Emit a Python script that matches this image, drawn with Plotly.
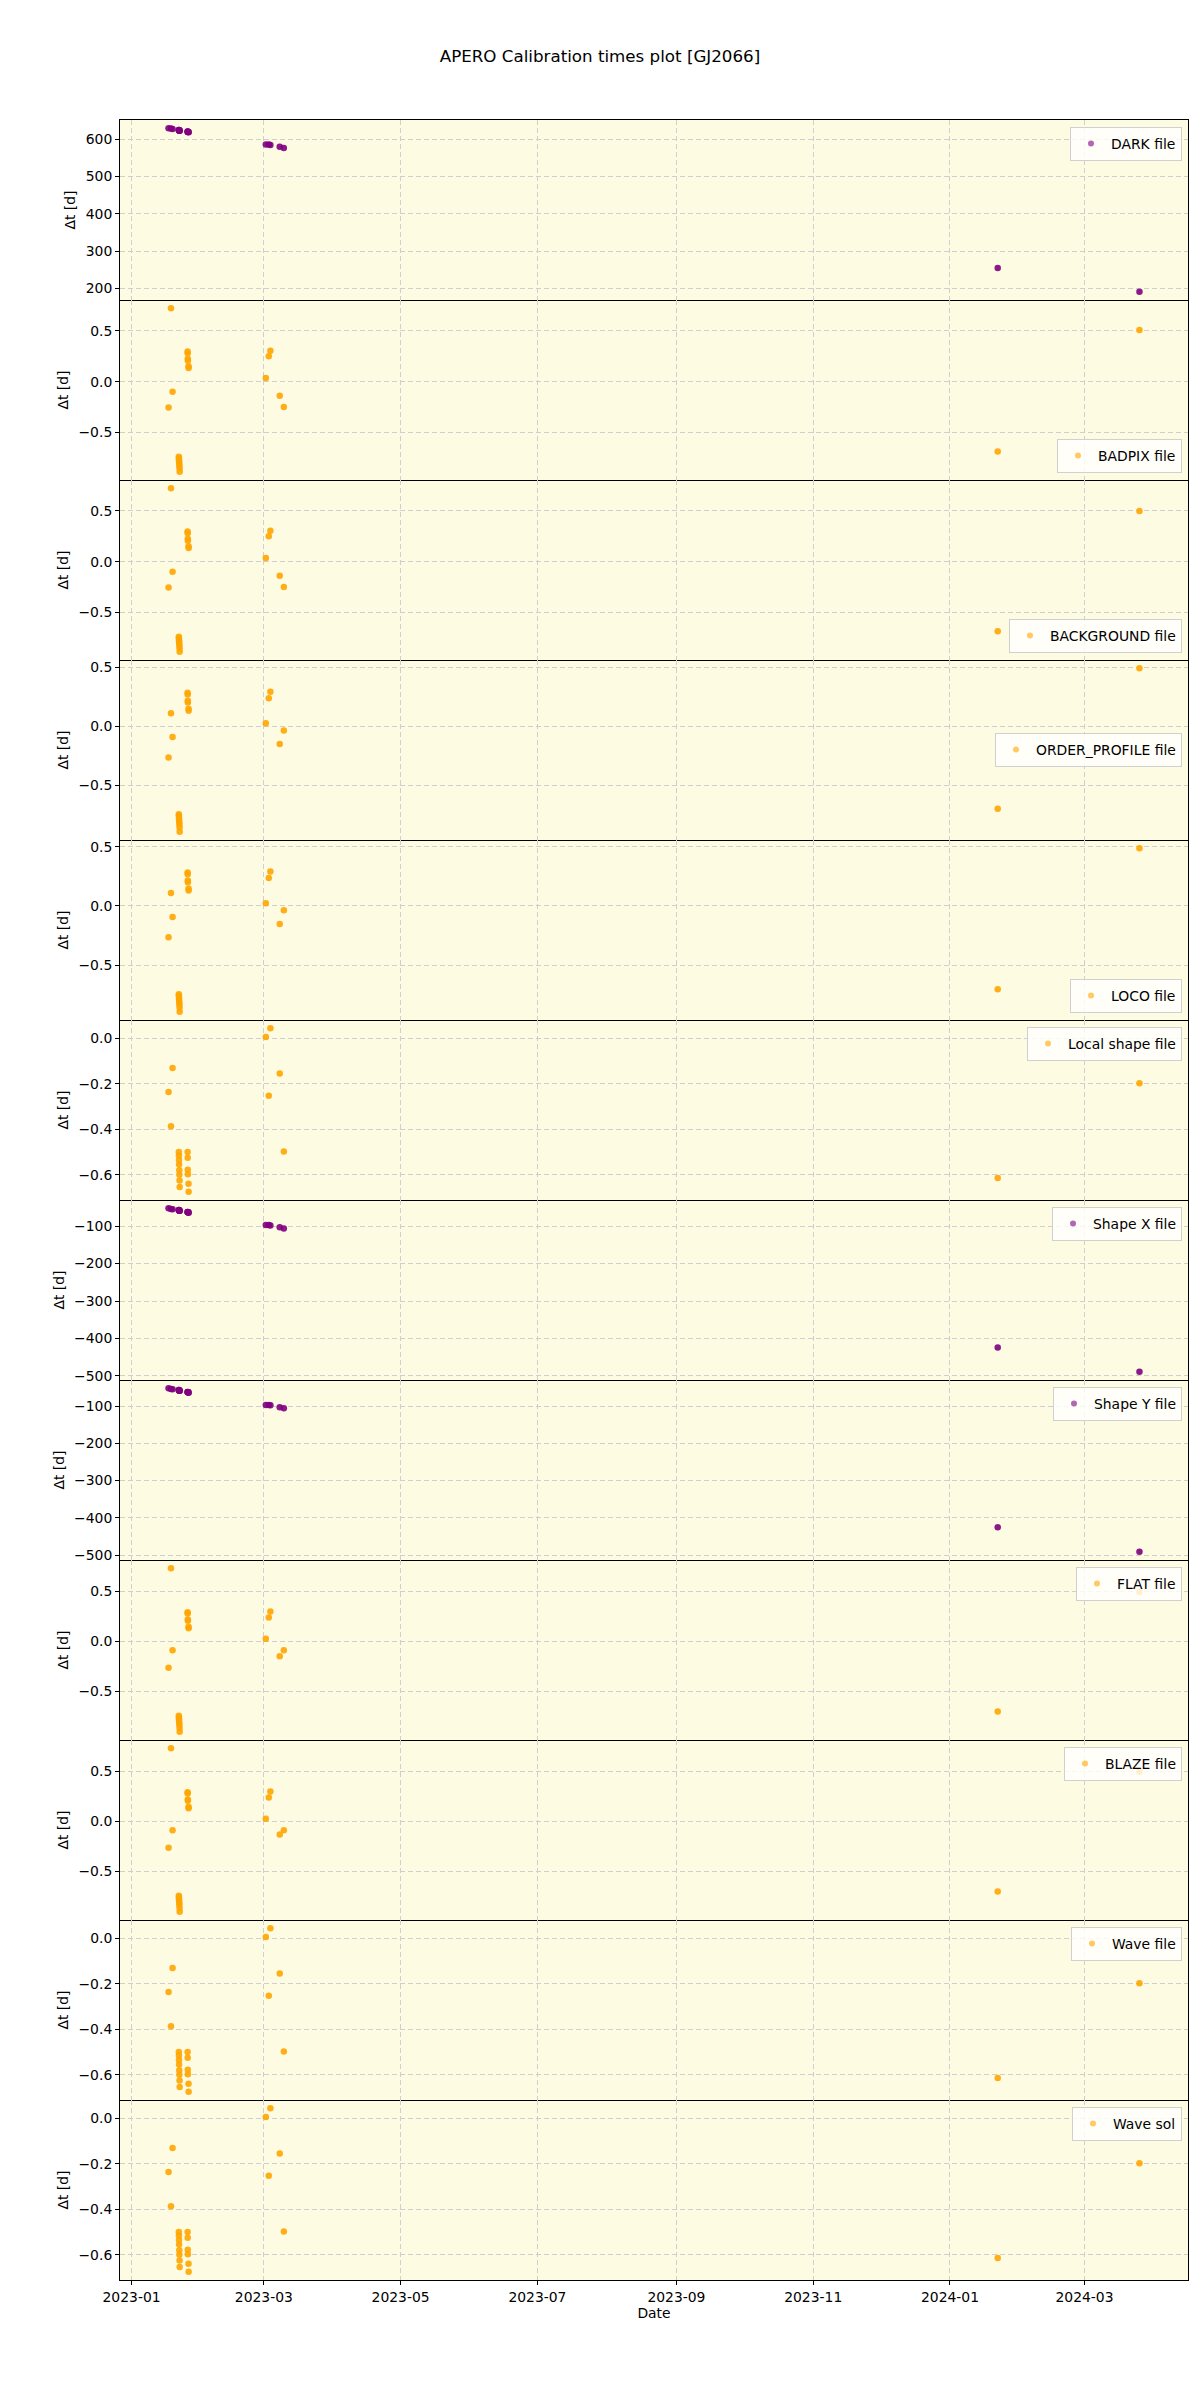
import pandas as pd
import plotly.graph_objects as go
from plotly.subplots import make_subplots

# ---------------- data ----------------
obs_dates = [
    "2023-01-17 12:00", "2023-01-18 14:00", "2023-01-19 07:00",
    "2023-01-22 02:00", "2023-01-22 03:00", "2023-01-22 04:00", "2023-01-22 05:00",
    "2023-01-22 07:00", "2023-01-22 08:00", "2023-01-22 10:00", "2023-01-22 11:00",
    "2023-01-26 00:00", "2023-01-26 01:00", "2023-01-26 02:00", "2023-01-26 03:00",
    "2023-01-26 10:00", "2023-01-26 11:00",
    "2023-03-01 21:00", "2023-03-03 05:00", "2023-03-03 22:00",
    "2023-03-08 02:00", "2023-03-09 22:00",
    "2024-01-22 07:00", "2024-03-25 12:00",
]

dark_dt = [629, 628, 627, 624, 624, 623, 623, 623, 623, 623, 622,
           620, 620, 619, 619, 619, 618, 585, 585, 584, 579, 576, 255, 191]
badpix_dt = [-0.255, 0.725, -0.099, -0.742, -0.755, -0.775, -0.79, -0.81, -0.83, -0.855, -0.89,
             0.298, 0.28, 0.225, 0.205, 0.152, 0.135, 0.036, 0.25, 0.305, -0.14, -0.25, -0.69, 0.51]
background_dt = [-0.255, 0.725, -0.099, -0.742, -0.755, -0.775, -0.79, -0.81, -0.83, -0.855, -0.89,
                 0.298, 0.28, 0.225, 0.205, 0.152, 0.135, 0.036, 0.25, 0.305, -0.14, -0.25, -0.686, 0.50]
order_profile_dt = [-0.266, 0.108, -0.093, -0.748, -0.76, -0.78, -0.795, -0.815, -0.835, -0.86, -0.896,
                    0.282, 0.268, 0.214, 0.20, 0.147, 0.13, 0.023, 0.235, 0.29, -0.153, -0.037, -0.70, 0.49]
loco_dt = [-0.266, 0.108, -0.093, -0.748, -0.76, -0.78, -0.795, -0.815, -0.835, -0.86, -0.896,
           0.282, 0.268, 0.214, 0.20, 0.147, 0.13, 0.023, 0.235, 0.29, -0.153, -0.037, -0.706, 0.488]
local_shape_dt = [-0.236, -0.386, -0.130, -0.50, -0.515, -0.535, -0.555, -0.58, -0.60, -0.625, -0.654,
                  -0.50, -0.525, -0.578, -0.598, -0.64, -0.675, 0.006, -0.252, 0.045, -0.154, -0.498,
                  -0.614, -0.197]
shape_x_dt = [-52, -54, -55, -57, -57, -58, -58, -58, -58, -59, -59,
              -62, -62, -63, -63, -63, -64, -97, -97, -98, -103, -106, -424, -489]
shape_y_dt = [-52, -54, -55, -57, -57, -58, -58, -58, -58, -59, -59,
              -62, -62, -63, -63, -63, -64, -97, -97, -98, -103, -106, -425, -491]
flat_dt = [-0.263, 0.733, -0.087, -0.744, -0.758, -0.778, -0.795, -0.815, -0.835, -0.865, -0.904,
           0.293, 0.28, 0.22, 0.206, 0.146, 0.133, 0.026, 0.24, 0.30, -0.147, -0.087, -0.70, 0.497]
blaze_dt = [-0.263, 0.733, -0.087, -0.744, -0.758, -0.778, -0.795, -0.815, -0.835, -0.865, -0.904,
            0.293, 0.28, 0.22, 0.206, 0.146, 0.133, 0.026, 0.24, 0.30, -0.130, -0.087, -0.70, 0.497]
wave_file_dt = [-0.236, -0.386, -0.130, -0.50, -0.515, -0.535, -0.555, -0.58, -0.60, -0.625, -0.654,
                -0.50, -0.525, -0.578, -0.598, -0.64, -0.675, 0.006, -0.252, 0.045, -0.154, -0.498,
                -0.614, -0.197]
wave_sol_dt = [-0.236, -0.386, -0.130, -0.50, -0.515, -0.535, -0.555, -0.58, -0.60, -0.625, -0.654,
               -0.50, -0.525, -0.578, -0.598, -0.64, -0.675, 0.006, -0.252, 0.045, -0.154, -0.498,
               -0.614, -0.197]

labels = ["DARK file", "BADPIX file", "BACKGROUND file", "ORDER_PROFILE file", "LOCO file",
          "Local shape file", "Shape X file", "Shape Y file", "FLAT file", "BLAZE file",
          "Wave file", "Wave sol"]
series = [dark_dt, badpix_dt, background_dt, order_profile_dt, loco_dt, local_shape_dt,
          shape_x_dt, shape_y_dt, flat_dt, blaze_dt, wave_file_dt, wave_sol_dt]

# ---------------- styles ----------------
PURPLE = "#800080"
ORANGE = "#FFA500"
colors = [PURPLE, ORANGE, ORANGE, ORANGE, ORANGE, ORANGE, PURPLE, PURPLE, ORANGE, ORANGE, ORANGE, ORANGE]
legend_locs = ["upper right", "lower right", "lower right", "center right", "lower right",
               "upper right", "upper right", "upper right", "upper right", "upper right",
               "upper right", "upper right"]
dticks = [100, 0.5, 0.5, 0.5, 0.5, 0.2, 100, 100, 0.5, 0.5, 0.2, 0.2]
tickfmts = ["d", ".1f", ".1f", ".1f", ".1f", ".1f", "d", "d", ".1f", ".1f", ".1f", ".1f"]

W, H = 1200, 2400
ML, MR, MT, MB = 120, 12, 120, 120
PW, PH = W - ML - MR, H - MT - MB
N = len(labels)
FONT = "DejaVu Sans"
FS = 13.9
BG = "#FDFBE1"
GRID = "#cfcfcf"

fig = make_subplots(rows=N, cols=1, shared_xaxes=True, vertical_spacing=0)

x = pd.to_datetime(obs_dates)
span = x.max() - x.min()
xrange = [x.min() - 0.05 * span, x.max() + 0.05 * span]

legend_layout = {}
for i in range(N):
    r = i + 1
    leg = "legend" if r == 1 else f"legend{r}"
    vals = series[i]
    # data points
    fig.add_trace(go.Scatter(
        x=x, y=vals, mode="markers", name=labels[i],
        marker=dict(color=colors[i], size=6.5, opacity=0.9, line=dict(width=0)),
        legend=leg, showlegend=False,
    ), row=r, col=1)
    # legend entry (lighter marker, as in the reference legend)
    fig.add_trace(go.Scatter(
        x=[None], y=[None], mode="markers", name=labels[i],
        marker=dict(color=colors[i], size=6, opacity=0.6, line=dict(width=0)),
        legend=leg, showlegend=True, hoverinfo="skip",
    ), row=r, col=1)
    lo, hi = min(vals), max(vals)
    pad = 0.05 * (hi - lo)
    fig.update_yaxes(range=[lo - pad, hi + pad], dtick=dticks[i], tickformat=tickfmts[i],
                     title_text="Δt [d]", row=r, col=1)
    top = 1 - i / N
    bot = 1 - (i + 1) / N
    loc = legend_locs[i]
    if loc == "upper right":
        ly, ya = top - 7 / PH, "top"
    elif loc == "lower right":
        ly, ya = bot + 7 / PH, "bottom"
    else:
        ly, ya = (top + bot) / 2, "middle"
    legend_layout[leg] = dict(
        x=1 - 6 / PW, xanchor="right", y=ly, yanchor=ya,
        bgcolor="rgba(255,255,255,0.8)", bordercolor="#d0d0d0", borderwidth=1,
        font=dict(family=FONT, size=FS, color="black"),
    )

fig.update_xaxes(
    range=xrange, tick0="2023-01-01", dtick="M2", tickformat="%Y-%m",
    showline=True, mirror=False, linecolor="black", linewidth=1,
    showgrid=True, gridcolor=GRID, gridwidth=1, griddash="5px,3px",
    ticks="outside", ticklen=4, tickcolor="black", tickwidth=1,
    tickfont=dict(family=FONT, size=FS, color="black"),
    zeroline=False,
)
fig.update_xaxes(mirror=True, row=1, col=1)
fig.update_xaxes(title_text="Date", title_font=dict(family=FONT, size=FS, color="black"),
                 title_standoff=4, row=N, col=1)

fig.update_yaxes(
    showline=True, mirror=True, linecolor="black", linewidth=1,
    showgrid=True, gridcolor=GRID, gridwidth=1, griddash="5px,3px",
    ticks="outside", ticklen=4, tickcolor="black", tickwidth=1,
    tickfont=dict(family=FONT, size=FS, color="black"),
    title_font=dict(family=FONT, size=FS, color="black"),
    title_standoff=6, zeroline=False,
)

fig.update_layout(
    width=W, height=H,
    margin=dict(l=ML, r=MR, t=MT, b=MB, autoexpand=False),
    paper_bgcolor="white", plot_bgcolor="rgba(0,0,0,0)",
    font=dict(family=FONT, size=FS, color="black"),
    title=dict(text="APERO Calibration times plot [GJ2066]", x=0.5, xanchor="center",
               xref="container", y=1 - 56 / H, yanchor="middle", yref="container",
               font=dict(family=FONT, size=16.7, color="black")),
    # one shared background behind all panels, so no panel hides the border of its neighbour
    shapes=[dict(type="rect", xref="paper", yref="paper", x0=0, x1=1, y0=0, y1=1,
                 fillcolor=BG, line=dict(width=0), layer="below")],
    **legend_layout,
)

fig.write_html("out.html", config={"displayModeBar": False},
               post_script="document.body.style.margin='0';document.body.style.padding='0';")
